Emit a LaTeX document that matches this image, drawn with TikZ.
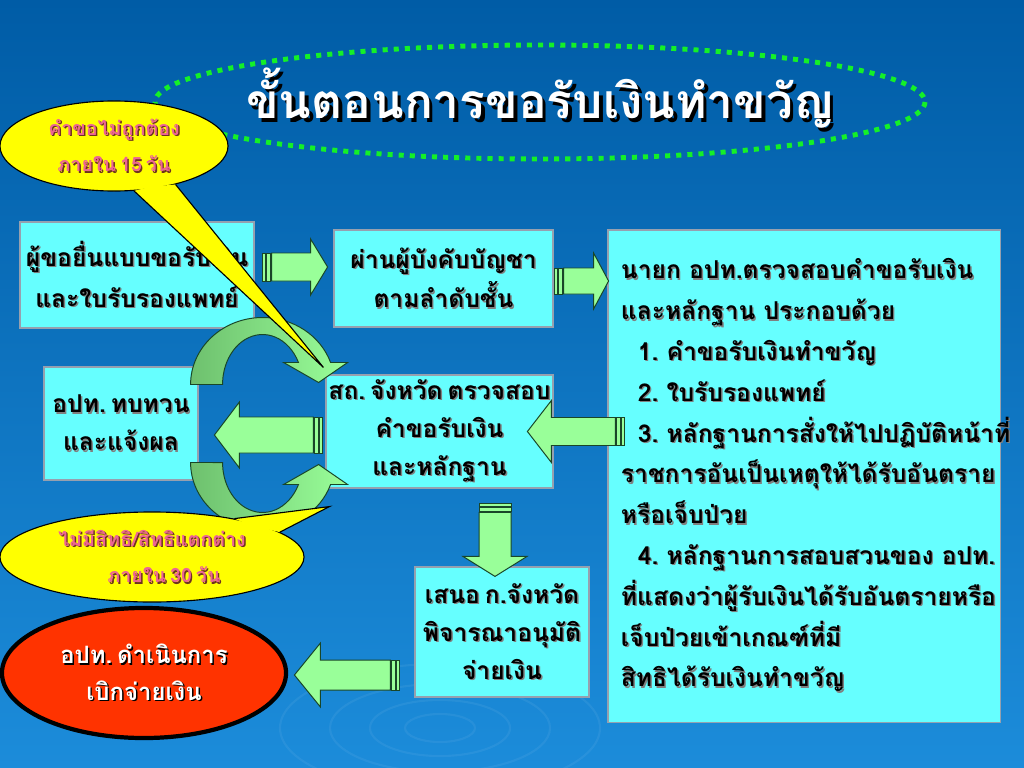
\documentclass[tikz,border=0pt]{standalone}
\usepackage{fontspec}
\setmainfont[Script=Thai, WordSpace=0.6]{Loma}
\usetikzlibrary{calc,shapes.geometric}
\frenchspacing

\definecolor{bgtop}{RGB}{0,92,166}
\definecolor{bgbottom}{RGB}{28,140,218}
\definecolor{boxcyan}{RGB}{102,255,255}
\definecolor{boxline}{RGB}{150,160,175}
\definecolor{arrowgreen}{RGB}{153,255,153}
\definecolor{arrowdark}{RGB}{110,192,110}
\definecolor{arrowedge}{RGB}{25,70,40}
\definecolor{dotgreen}{RGB}{20,240,40}
\definecolor{calloutyellow}{RGB}{255,255,0}
\definecolor{calloutpink}{RGB}{236,100,148}
\definecolor{calloutshadow}{RGB}{110,50,30}
\definecolor{ovalred}{RGB}{255,51,0}

% ข้อความมีเงา
\newcommand{\shadowtxt}[3][1pt]{\mbox{\makebox[0pt][l]{\kern#1\raisebox{-#1}{\textcolor{#2}{#3}}}#3}}

\tikzset{
  boxnode/.style={draw=boxline, fill=boxcyan, line width=0.8pt, align=center, inner sep=0pt,
    font=\bfseries\fontsize{17.5}{29}\selectfont},
  callout/.style={ellipse, draw=black, fill=calloutyellow, line width=0.8pt, align=center, inner sep=0pt,
    text=calloutpink, font=\bfseries\fontsize{14}{26}\selectfont},
  arrowline/.style={draw=arrowedge, fill=arrowgreen, line width=0.7pt},
  pics/stripearrow/.style args={#1/#2/#3/#4}{code={
    \draw[arrowline] (0,-#2) rectangle (3,#2);
    \draw[arrowline] (4,-#2) rectangle (8,#2);
    \draw[arrowline] (9,-#2) -- ({#1-#4},-#2) -- ({#1-#4},-#3) -- (#1,0) -- ({#1-#4},#3) -- ({#1-#4},#2) -- (9,#2) -- cycle;
  }},
  pics/bendarrow/.style={code={
    \draw[draw=arrowedge, line width=0.7pt, left color=arrowdark, right color=arrowgreen]
      (-72,0) arc[start angle=180, end angle=340.83, x radius=72, y radius=67]
      -- (85,-22) -- (56,-2) -- (21,-22) -- (35.9,-22)
      arc[start angle=333.9, end angle=180, x radius=40, y radius=50] -- cycle;
  }}
}

\begin{document}
\begin{tikzpicture}[x=0.025cm,y=-0.025cm]
  % พื้นหลัง
  \useasboundingbox (0,0) rectangle (1024,768);
  \shade[top color=bgtop, bottom color=bgbottom] (0,0) rectangle (1024,768);
  \foreach \r in {35,70,110,160}
    \draw[white, opacity=0.06, line width=1.5pt] (440,728) ellipse [x radius=\r, y radius=0.4*\r];

  % หัวเรื่อง
  \draw[dotgreen, line width=3.5pt, dash pattern=on 3.6pt off 4.3pt] (540,102) ellipse [x radius=385, y radius=57];
  \node[text=white, font=\bfseries\fontsize{34}{40}\selectfont] (title) at (540,100)
    {\shadowtxt[2.5pt]{black}{ขั้นตอนการขอรับเงินทำขวัญ}};

  % กล่องขั้นตอน
  \node[boxnode, minimum width=5.85cm, minimum height=2.65cm] (apply) at (137,275)
    {\shadowtxt{gray}{ผู้ขอยื่นแบบขอรับเงิน}\\\shadowtxt{gray}{และใบรับรองแพทย์}};
  \node[boxnode, minimum width=5.475cm, minimum height=2.425cm, font=\bfseries\fontsize{17.5}{28}\selectfont] (chief) at (443.5,278.5)
    {\shadowtxt{gray}{ผ่านผู้บังคับบัญชา}\\\shadowtxt{gray}{ตามลำดับชั้น}};
  \node[boxnode, minimum width=9.8cm, minimum height=12.3cm, text width=9.15cm, align=left] (mayor) at (804,476)
    {\shadowtxt{gray}{นายก อปท.ตรวจสอบคำขอรับเงิน}\\
     \shadowtxt{gray}{และหลักฐาน ประกอบด้วย}\\
     \hspace*{12pt}\shadowtxt{gray}{1. คำขอรับเงินทำขวัญ}\\
     \hspace*{12pt}\shadowtxt{gray}{2. ใบรับรองแพทย์}\\
     \hspace*{12pt}\shadowtxt{gray}{3. หลักฐานการสั่งให้ไปปฏิบัติหน้าที่}\\
     \shadowtxt{gray}{ราชการอันเป็นเหตุให้ได้รับอันตราย}\\
     \shadowtxt{gray}{หรือเจ็บป่วย}\\
     \hspace*{12pt}\shadowtxt{gray}{4. หลักฐานการสอบสวนของ อปท.}\\
     \shadowtxt{gray}{ที่แสดงว่าผู้รับเงินได้รับอันตรายหรือ}\\
     \shadowtxt{gray}{เจ็บป่วยเข้าเกณฑ์ที่มี}\\
     \shadowtxt{gray}{สิทธิได้รับเงินทำขวัญ}};
  \node[boxnode, minimum width=3.85cm, minimum height=2.825cm, font=\bfseries\fontsize{17.5}{27}\selectfont] (review) at (121,423.5)
    {\shadowtxt{gray}{อปท. ทบทวน}\\\shadowtxt{gray}{และแจ้งผล}};
  \node[boxnode, minimum width=5.675cm, minimum height=2.825cm, font=\bfseries\fontsize{17.5}{27}\selectfont] (province) at (439.5,431.5)
    {\shadowtxt{gray}{สถ. จังหวัด ตรวจสอบ}\\\shadowtxt{gray}{คำขอรับเงิน}\\\shadowtxt{gray}{และหลักฐาน}};
  \node[boxnode, minimum width=4.35cm, minimum height=3.25cm, font=\bfseries\fontsize{17.5}{27}\selectfont] (approve) at (502,632)
    {\shadowtxt{gray}{เสนอ ก.จังหวัด}\\\shadowtxt{gray}{พิจารณาอนุมัติ}\\\shadowtxt{gray}{จ่ายเงิน}};

  % ลูกศร
  \pic at ($(apply.east)+(8,-8)$) {stripearrow=65/14/28/17};
  \pic at ($(chief.east)+(1,2.5)$) {stripearrow=54/13/28/15};
  \pic[rotate=180] at ($(province.east -| mayor.west)+(17,0)$) {stripearrow=97/14/31/24};
  \pic[rotate=180] at ($(province.west)+(-3,3.5)$) {stripearrow=108/18/33/25};
  \pic[rotate=-90] at ($(approve.north)+(-7,-63)$) {stripearrow=73/16/32/20};
  \pic[rotate=180] at ($(approve.west)+(-15,43)$) {stripearrow=105/15/32/26};
  \pic at ($(review.east)+(64,-39)$) {bendarrow};
  \pic[yscale=-1] at ($(review.east)+(64,39)$) {bendarrow};

  \node[ellipse, draw=black, fill=ovalred, line width=3pt, minimum width=7.1cm, minimum height=3.25cm,
    align=center, text=white, font=\bfseries\fontsize{17}{26}\selectfont] (payout) at (144,673)
    {\shadowtxt{black}{อปท. ดำเนินการ}\\\shadowtxt{black}{เบิกจ่ายเงิน}};

  % คำอธิบาย
  \node[callout, minimum width=5.7cm, minimum height=2.25cm] (wrong15) at (114,146)
    {\shadowtxt{calloutshadow}{คำขอไม่ถูกต้อง}\\\shadowtxt{calloutshadow}{ภายใน 15 วัน}};
  \coordinate (tip15) at ($(province.north west)+(-2,-7)$);
  \fill[calloutyellow] (wrong15.294) -- (tip15) -- (wrong15.328) -- ($(wrong15.center)!0.95!(wrong15.311)$) -- cycle;
  \draw[line width=0.8pt] (wrong15.294) -- (tip15) -- (wrong15.328);

  \node[callout, minimum width=7.6cm, minimum height=2.25cm] (differ30) at (152,557)
    {\shadowtxt{calloutshadow}{ไม่มีสิทธิ/สิทธิแตกต่าง}\\\hspace*{17pt}\shadowtxt{calloutshadow}{ภายใน 30 วัน}};
  \coordinate (tip30) at ($(province.south west)+(4,18)$);
  \fill[calloutyellow] (differ30.25) -- (tip30) -- (differ30.11) -- ($(differ30.center)!0.95!(differ30.18)$) -- cycle;
  \draw[line width=0.8pt] (differ30.25) -- (tip30) -- (differ30.11);
\end{tikzpicture}
\end{document}
